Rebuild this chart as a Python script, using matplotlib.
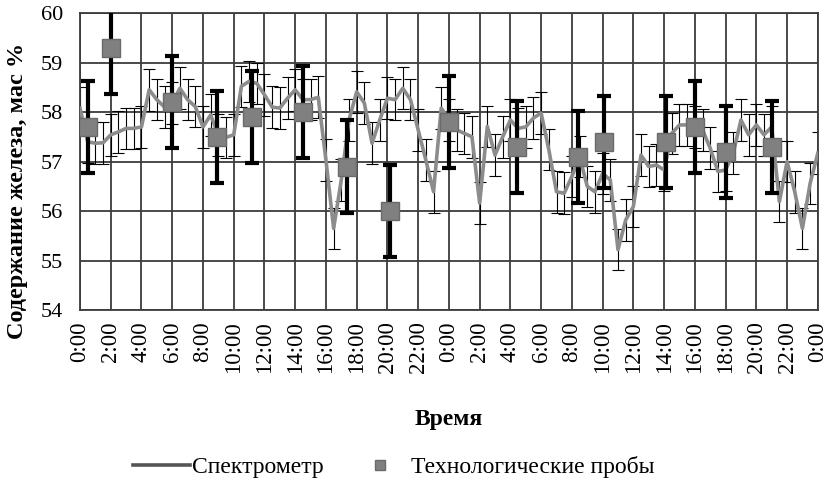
import numpy as np
import matplotlib
matplotlib.use('Agg')
import matplotlib.pyplot as plt
from matplotlib.lines import Line2D

plt.rcParams['font.family'] = ['Liberation Serif', 'DejaVu Serif']

# spectrometer readings, every 30 min over two days (hours from start)
spec_hours = np.arange(0, 48.5, 0.5)
spec_values = [
    58.08, 57.40, 57.37, 57.38, 57.54, 57.60, 57.67, 57.67, 57.70, 58.45,
    58.25, 58.10, 58.18, 58.48, 58.25, 58.11, 57.70, 57.94, 57.54, 57.49,
    57.54, 58.52, 58.62, 58.58, 58.35, 58.10, 58.08, 58.28, 58.45, 58.25,
    58.25, 58.30, 57.03, 55.65, 56.63, 57.84, 58.41, 58.18, 57.37, 57.84,
    58.28, 58.25, 58.48, 58.25, 57.64, 57.03, 56.39, 58.08, 57.84, 57.64,
    57.57, 57.50, 56.16, 57.71, 57.13, 57.50, 57.84, 57.67, 57.70, 57.88,
    57.98, 57.24, 56.39, 56.36, 56.70, 57.10, 56.50, 56.39, 56.76, 56.63,
    55.22, 55.82, 56.09, 57.13, 56.90, 56.93, 56.83, 57.57, 57.74, 57.74,
    57.70, 57.64, 57.27, 56.80, 56.83, 57.17, 57.84, 57.54, 57.74, 57.54,
    57.70, 56.19, 57.00, 56.39, 55.65, 56.56, 57.17,
]
spec_err = 0.42

# laboratory samples
probe_hours = [0.5, 2.0, 6.0, 8.9, 11.2, 14.5, 17.4, 20.2, 24.0, 28.4,
               32.4, 34.1, 38.1, 40.0, 42.0, 45.0]
probe_values = [57.7, 59.3, 58.2, 57.5, 57.9, 58.0, 56.9, 56.0, 57.8, 57.3,
                57.1, 57.4, 57.4, 57.7, 57.2, 57.3]
probe_err = 0.93

tick_hours = np.arange(0, 49, 2)
tick_labels = [f'{h % 24}:00' for h in tick_hours]

fig = plt.figure(figsize=(8.29, 4.83), dpi=100)
ax = fig.add_axes([0.0965, 0.358, 0.89, 0.615])

ax.errorbar(spec_hours, spec_values, yerr=spec_err, fmt='none', ecolor='black',
            elinewidth=0.8, capsize=4, capthick=0.8, zorder=2)
ax.plot(spec_hours, spec_values, color='#8c8c8c', lw=2.6, zorder=3)

ax.errorbar(probe_hours, probe_values, yerr=probe_err, fmt='none', ecolor='black',
            elinewidth=3, capsize=5, capthick=3, zorder=4)
ax.plot(probe_hours, probe_values, ls='none', marker='s', ms=13.5,
        mfc='#808080', mec='#6a6a6a', mew=1, zorder=5)

ax.set_xlim(0, 48)
ax.set_ylim(54, 60)
ax.set_xticks(tick_hours)
ax.set_xticklabels(tick_labels, rotation=90, fontsize=16.5)
ax.set_yticks(np.arange(54, 61, 1))
ax.tick_params(axis='y', labelsize=16, length=0, pad=12)
ax.tick_params(axis='x', length=0, pad=8)
ax.grid(True, color='#3c3c3c', lw=1.3)
ax.set_axisbelow(True)
for s in ax.spines.values():
    s.set_color('#3c3c3c')
    s.set_linewidth(1.3)

ax.set_ylabel('Содержание железа, мас %', fontsize=17.5, fontweight='bold')
ax.yaxis.set_label_coords(-0.071, 0.4)
ax.set_xlabel('Время', fontsize=17, fontweight='bold', labelpad=26)

handles = [Line2D([], [], color='#555555', lw=2.6),
           Line2D([], [], ls='none', marker='s', ms=7, mfc='#808080', mec='#6a6a6a')]
fig.legend(handles, ['Спектрометр', 'Технологические пробы'], loc='center',
           bbox_to_anchor=(0.475, 0.033), ncol=2, frameon=False, fontsize=17,
           handlelength=2.4, handletextpad=0.1, columnspacing=1.2)

fig.savefig('out.png', dpi=100)
